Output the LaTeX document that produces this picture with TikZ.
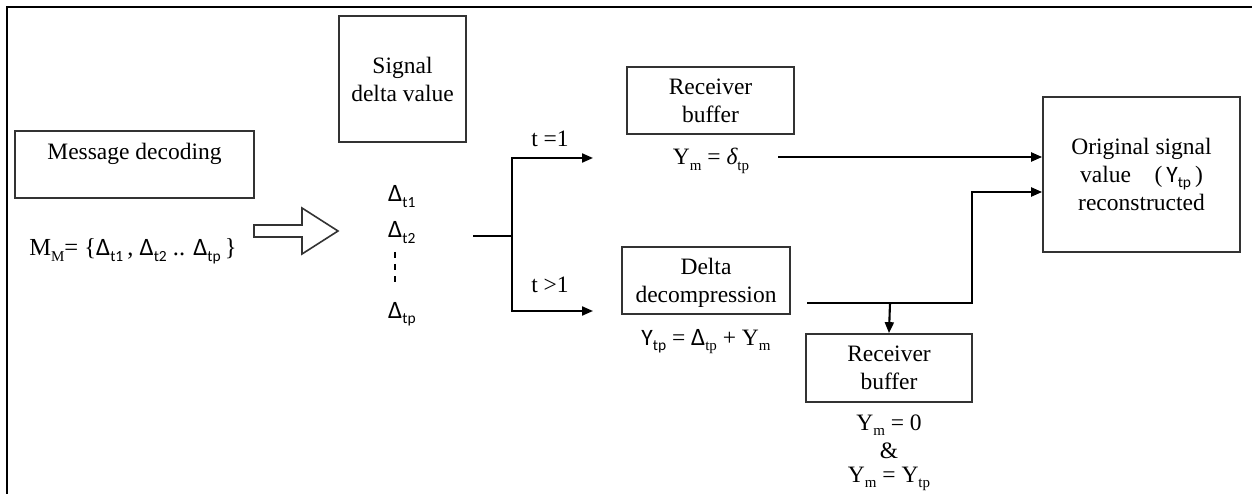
\documentclass[tikz,border=0pt]{standalone}
\usepackage{fontspec}
\setmainfont{Liberation Serif}
\newfontfamily\sanslbl{Carlito}
\usetikzlibrary{arrows.meta}

% text sizes
\newcommand\boxfont{\fontsize{23.5}{28}\selectfont}
% serif and sans subscripts
\newcommand\sbr[1]{\raisebox{-0.22em}{\fontsize{15}{15}\selectfont #1}}
\newcommand\sbs[1]{\raisebox{-0.22em}{\fontsize{15.5}{15}\selectfont\sanslbl #1}}
\newcommand\Dl{{\sanslbl\fontsize{25}{28}\selectfont Δ}}

\begin{document}
\begin{tikzpicture}[x=1pt,y=-1pt,
  box/.style={draw=black!80, line width=1.7pt, inner sep=0pt, align=center, font=\boxfont},
  tx/.style={inner sep=0pt, font=\boxfont},
  conn/.style={line width=2.1pt},
  arr/.style={conn, -{Triangle[length=11pt,width=9pt]}}]

\fill[white] (0,0) rectangle (1252,494);
\useasboundingbox (0,0) rectangle (1252,494);

% outer frame (top and left edges)
\draw[line width=2.6pt] (7,494) -- (7,7) -- (1252,7);

% message decoding
\node[box, minimum width=239pt, minimum height=67pt, text height=16pt, text depth=25pt] (msg) at (134.5,164.5) {Message decoding};
\node[tx, anchor=base, font=\fontsize{24.5}{28}\selectfont] (mm) at (133,256)
  {M\sbr{M}= \{\Dl\sbs{t1}\,, \Dl\sbs{t2} .. \Dl\sbs{tp}\,\}};

% hollow block arrow
\draw[line width=1.6pt, draw=black!80] (254,225) -- (302,225) -- (302,208) -- (338,231)
  -- (302,254) -- (302,237) -- (254,237) -- cycle;

% signal delta values
\node[box, minimum width=127pt, minimum height=126pt] (sig) at (402.5,79) {Signal\\delta value};
\node[tx, anchor=base west] (d1) at (388,202) {\Dl\sbs{t1}};
\node[tx, anchor=base west] (d2) at (388,238) {\Dl\sbs{t2}};
\node[tx, anchor=base west] (dp) at (388,318) {\Dl\sbs{tp}};
\draw[line width=1.8pt, dash pattern=on 6pt off 6pt] (395,252) -- (395,282);

% fork into the two cases
\coordinate (src) at (473,236);
\coordinate (fork) at (512,236);
\coordinate (up) at (593,158);
\coordinate (dn) at (593,311);
\draw[conn] (src) -- (fork);
\draw[arr] (fork) |- (up);
\draw[arr] (fork) |- (dn);
\node[tx, anchor=base] (teq) at (550,147) {t =1};
\node[tx, anchor=base] (tgt) at (550,292) {t >1};

% first sample
\node[box, minimum width=167pt, minimum height=67pt] (rb1) at (710.5,100.5) {Receiver\\buffer};
\node[tx, anchor=base] (ym) at (711,165) {Y\sbr{m} = {\itshape δ}\sbr{tp}};

% later samples
\node[box, minimum width=168pt, minimum height=67pt, text depth=0pt] (dd) at (706,280.5) {Delta\\decompression};
\node[tx, anchor=base] (ytp) at (706,345) {{\sanslbl Y}\sbs{tp} = \Dl\sbr{tp} + Y\sbr{m}};

% reconstructed value
\node[box, minimum width=197pt, minimum height=155pt] (osv) at (1141.5,174.5)
  {Original signal\\value\quad(\,{\sanslbl Y}\sbs{tp}\,)\\reconstructed};

\coordinate (ymout) at (778,157);
\draw[arr] (ymout) -- (ymout -| osv.west);

\coordinate (ddout) at (807,303);
\coordinate (tap) at (890,303);
\coordinate (bend) at (972,303);
\coordinate (rise) at (972,192);
\draw[arr] (ddout) -- (bend) -- (rise) -- (rise -| osv.west);

% buffer update
\node[box, minimum width=166pt, minimum height=68pt] (rb2) at (889,368) {Receiver\\buffer};
\draw[arr] (tap) -- (rb2.north);
\node[tx, anchor=base] (yz) at (889,430) {Y\sbr{m} = 0};
\node[tx, anchor=base] (amp) at (889,458) {\&};
\node[tx, anchor=base] (yy) at (889,482) {Y\sbr{m} = Y\sbr{tp}};

\end{tikzpicture}
\end{document}
